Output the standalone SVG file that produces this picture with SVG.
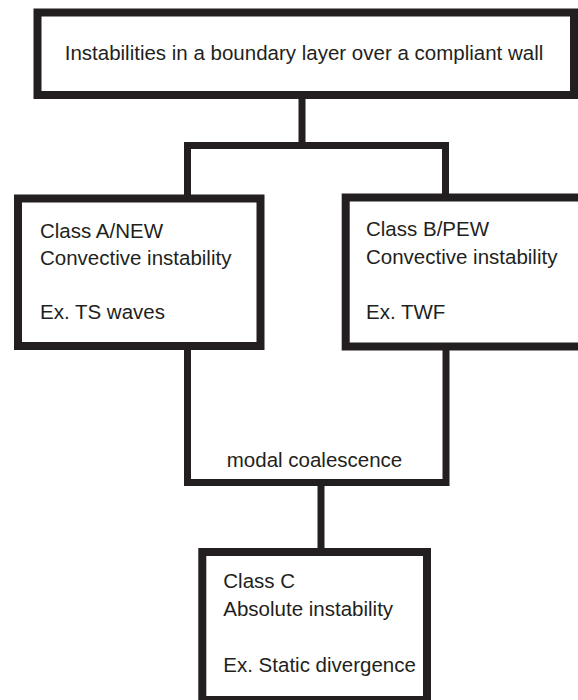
<svg xmlns="http://www.w3.org/2000/svg" width="578" height="700" viewBox="0 0 578 700">
<style>
.box{fill:#fff;stroke:#231f20;stroke-width:8}
.con{fill:none;stroke:#231f20;stroke-width:7;stroke-linejoin:miter;stroke-linecap:square}
.t{font-family:"Liberation Sans",Arial,sans-serif;font-size:20.5px;fill:#231f20}
</style>
<rect width="578" height="700" fill="#fff"/>
<g id="connectors">
<path class="con" d="M302 99 V145.5 M187.5 145.5 H445.5 M187.5 145.5 V196 M445.5 145.5 V196"/>
<path class="con" d="M187.5 348 V482.5 H446 V348"/>
<path class="con" d="M321 482.5 V550"/>
</g>
<g id="top">
<rect class="box" x="37.5" y="12.5" width="536.5" height="82.5"/>
<text class="t" x="304" y="60" text-anchor="middle">Instabilities in a boundary layer over a compliant wall</text>
</g>
<g id="classA">
<rect class="box" x="18" y="198.5" width="242.5" height="147.5"/>
<text class="t" x="40" y="238">Class A/NEW</text>
<text class="t" x="40" y="265">Convective instability</text>
<text class="t" x="40" y="319">Ex. TS waves</text>
</g>
<g id="classB">
<rect class="box" x="345.7" y="197.5" width="240" height="149"/>
<text class="t" x="366" y="236">Class B/PEW</text>
<text class="t" x="366" y="264">Convective instability</text>
<text class="t" x="366" y="318.5">Ex. TWF</text>
</g>
<g id="modal">
<text class="t" x="314.5" y="466.5" text-anchor="middle">modal coalescence</text>
</g>
<g id="classC">
<rect class="box" x="202.3" y="552" width="224.7" height="148"/>
<text class="t" x="223.3" y="587.7">Class C</text>
<text class="t" x="223.3" y="615.7">Absolute instability</text>
<text class="t" x="223.3" y="672.3">Ex. Static divergence</text>
</g>
</svg>
